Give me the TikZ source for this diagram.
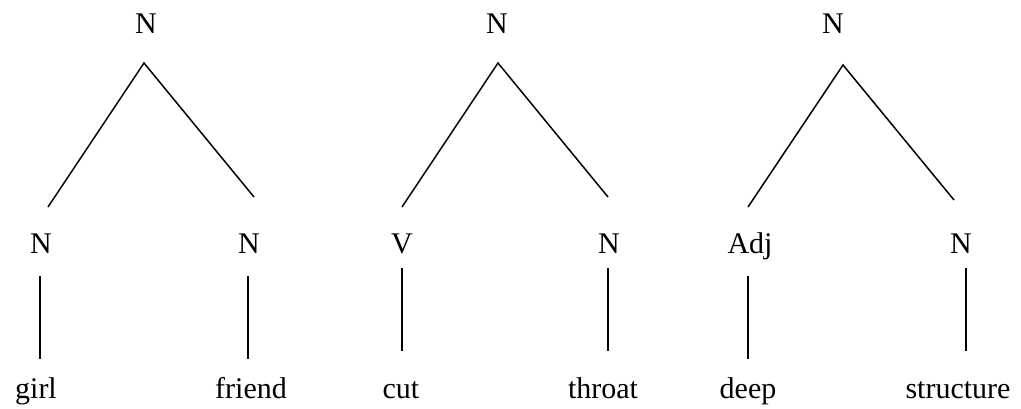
\documentclass[tikz,border=0pt]{standalone}
\usepackage{fontspec}
\setmainfont{Liberation Serif}
\begin{document}
\begin{tikzpicture}[x=1pt,y=-1pt,
  lbl/.style={anchor=base,inner sep=0pt,font=\fontsize{30}{36}\selectfont},
  branch/.style={line width=1.5pt,line cap=butt}]
\useasboundingbox (0,0) rectangle (1021,408);

% ---- compound 1: girl friend ----
\node[lbl] (t1) at (146,33) {N};
\node[lbl] (l1) at (41,253) {N};
\node[lbl] (r1) at (249,253) {N};
\node[lbl] (w1a) at (36,398) {girl};
\node[lbl] (w1b) at (251,398) {friend};
\coordinate (t1s) at (144,63);
\coordinate (l1n) at (48,207);
\coordinate (r1n) at (254,197);
\coordinate (l1s) at (40,276);
\coordinate (w1an) at (40,359);
\coordinate (r1s) at (248,276);
\coordinate (w1bn) at (248,359);
\draw[branch] (l1n) -- (t1s) -- (r1n);
\draw[branch] (l1s) -- (w1an);
\draw[branch] (r1s) -- (w1bn);

% ---- compound 2: cut throat ----
\node[lbl] (t2) at (497,33) {N};
\node[lbl] (l2) at (402,253) {V};
\node[lbl] (r2) at (609,253) {N};
\node[lbl] (w2a) at (401,398) {cut};
\node[lbl] (w2b) at (603,398) {throat};
\coordinate (t2s) at (498,63);
\coordinate (l2n) at (402,207);
\coordinate (r2n) at (608,197);
\coordinate (l2s) at (402,268);
\coordinate (w2an) at (402,351);
\coordinate (r2s) at (608,268);
\coordinate (w2bn) at (608,351);
\draw[branch] (l2n) -- (t2s) -- (r2n);
\draw[branch] (l2s) -- (w2an);
\draw[branch] (r2s) -- (w2bn);

% ---- compound 3: deep structure ----
\node[lbl] (t3) at (833,33) {N};
\node[lbl] (l3) at (750,253) {Adj};
\node[lbl] (r3) at (961,253) {N};
\node[lbl] (w3a) at (748,398) {deep};
\node[lbl] (w3b) at (958,398) {structure};
\coordinate (t3s) at (843,65);
\coordinate (l3n) at (748,207);
\coordinate (r3n) at (954,200);
\coordinate (l3s) at (748,276);
\coordinate (w3an) at (748,359);
\coordinate (r3s) at (966,268);
\coordinate (w3bn) at (966,351);
\draw[branch] (l3n) -- (t3s) -- (r3n);
\draw[branch] (l3s) -- (w3an);
\draw[branch] (r3s) -- (w3bn);
\end{tikzpicture}
\end{document}
